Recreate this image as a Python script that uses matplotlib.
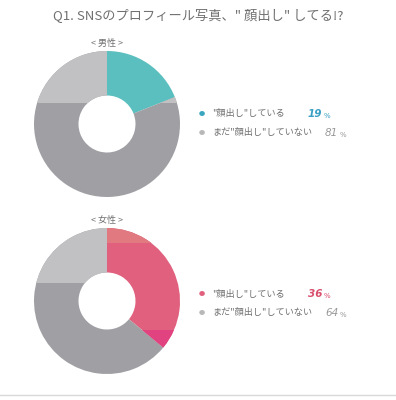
import matplotlib
matplotlib.use("Agg")
import matplotlib.pyplot as plt
from matplotlib.patches import Rectangle
from matplotlib.text import Annotation

plt.rcParams['font.family'] = ['Noto Sans CJK JP', 'DejaVu Sans']

# データ
title = 'Q1. SNSのプロフィール写真、" 顔出し" してる!?'
groups = ['< 男性 >', '< 女性 >']
labels = ['"顔出し"している', 'まだ"顔出し"していない']
male_values = [19, 81]
female_values = [36, 64]

W, H = 396, 400
fig = plt.figure(figsize=(W / 100, H / 100), dpi=100)

def fx(px):
    return px / W

def fy(py):
    return 1 - py / H

R = 73.0  # 半径 (px)


def donut(cx, cy, values, colors, bands):
    half = 80
    ax = fig.add_axes([fx(cx - half), fy(cy + half), 2 * half / W, 2 * half / H])
    wedges, _ = ax.pie(values, startangle=90, counterclock=False, colors=colors,
                       radius=1, wedgeprops=dict(width=1 - 28.5 / R, linewidth=0))
    # 写真の色むらを再現
    for idx, y0, y1, col in bands:
        rect = Rectangle((-1.2, y0), 2.4, y1 - y0, facecolor=col, edgecolor='none')
        ax.add_patch(rect)
        rect.set_clip_path(wedges[idx])
    ax.set_xlim(-half / R, half / R)
    ax.set_ylim(-half / R, half / R)
    ax.set_aspect('equal')
    ax.axis('off')


def legend(x, y, values, bullet, pct_col):
    for i in range(2):
        yy = y + i * 19
        fig.text(fx(x), fy(yy), '●', color=bullet[i], fontsize=4.5, va='center', ha='center')
        fig.text(fx(x + 10), fy(yy), labels[i], color='#707070', fontsize=6.6, va='center')
        px = 308 if i == 0 else 325
        t = fig.text(fx(px), fy(yy), str(values[i]), color=pct_col[i], fontsize=7.5,
                     family='DejaVu Sans', style='italic',
                     weight='bold' if i == 0 else 'normal', va='center')
        pc = Annotation('%', xy=(1, 0), xycoords=t, xytext=(1, 0),
                        textcoords='offset points', color=pct_col[i], fontsize=5,
                        family='DejaVu Sans', va='bottom', ha='left')
        fig.add_artist(pc)


fig.text(0.5, fy(16), title, ha='center', va='center', color='#707070', fontsize=9.5)

# 男性
fig.text(fx(107), fy(43), groups[0], ha='center', va='center', color='#707070', fontsize=6.5)
donut(107, 124, male_values, ['#5cbfbf', '#a09fa4'],
      [(1, 0.29, 1.2, '#c1c0c2')])
legend(202, 114, male_values, ['#3aa6c0', '#b8b8b8'], ['#3a9fc4', '#9a9a9a'])

# 女性
fig.text(fx(107), fy(220), groups[1], ha='center', va='center', color='#707070', fontsize=6.5)
donut(107, 301, female_values, ['#e0607e', '#a09fa4'],
      [(0, 0.79, 1.2, '#e07a80'), (0, -1.2, -0.40, '#e0437f'),
       (1, 0.25, 1.2, '#c1c0c2')])
legend(202, 294, female_values, ['#e0607e', '#b8b8b8'], ['#d9506e', '#9a9a9a'])

# 下の線
fig.add_artist(plt.Line2D([0, 1], [fy(395), fy(395)], color='#d8d8d8', linewidth=1))

fig.savefig('out.png', dpi=100)
